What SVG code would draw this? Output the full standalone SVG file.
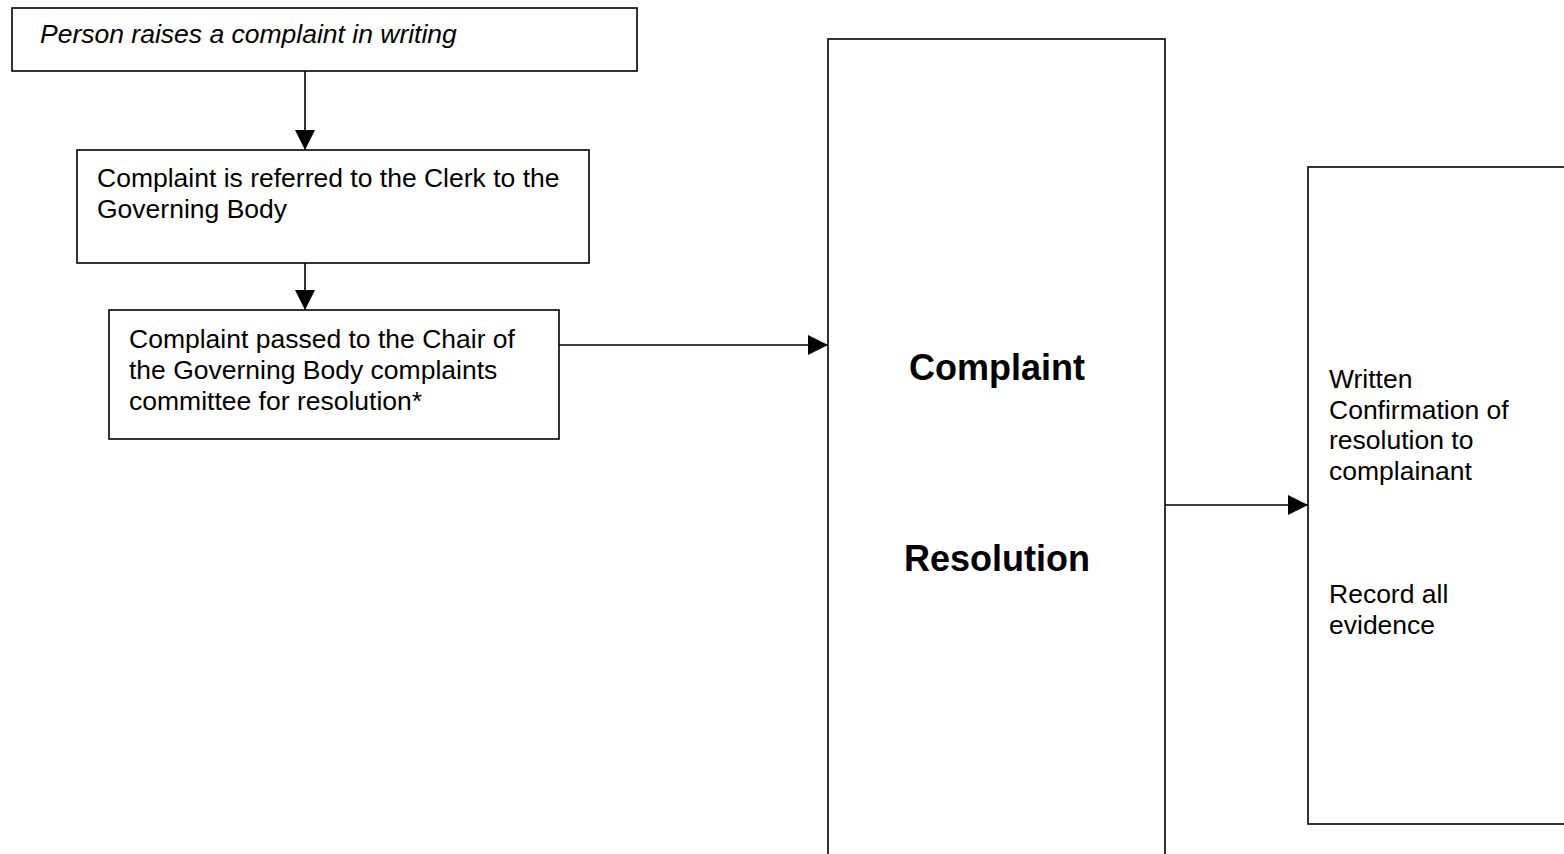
<svg xmlns="http://www.w3.org/2000/svg" width="1564" height="854" viewBox="0 0 1564 854">
<style>
.box{fill:#fff;stroke:#000;stroke-width:1.6}
.t{font-family:"Liberation Sans",Arial,sans-serif;font-size:26.5px;fill:#000}
.it{font-style:italic}
.b{font-family:"Liberation Sans",Arial,sans-serif;font-size:36px;font-weight:bold;fill:#000;text-anchor:middle}
.c{stroke:#000;stroke-width:1.6;fill:none}
</style>
<defs>
<marker id="ah" markerWidth="20" markerHeight="20" refX="20" refY="10" orient="auto" markerUnits="userSpaceOnUse">
<path d="M0,0 L20,10 L0,20 Z" fill="#000"/>
</marker>
</defs>
<rect width="1564" height="854" fill="#fff"/>
<g id="connectors">
<line class="c" x1="305" y1="71" x2="305" y2="150" marker-end="url(#ah)"/>
<line class="c" x1="305" y1="263" x2="305" y2="310" marker-end="url(#ah)"/>
<line class="c" x1="559" y1="345" x2="828" y2="345" marker-end="url(#ah)"/>
<line class="c" x1="1165" y1="505" x2="1308" y2="505" marker-end="url(#ah)"/>
</g>
<g id="n1">
<rect class="box" x="12" y="8" width="625" height="63"/>
<text class="t it" x="40" y="43">Person raises a complaint in writing</text>
</g>
<g id="n2">
<rect class="box" x="77" y="150" width="512" height="113"/>
<text class="t" x="97" y="187">Complaint is referred to the Clerk to the</text>
<text class="t" x="97" y="218">Governing Body</text>
</g>
<g id="n3">
<rect class="box" x="109" y="310" width="450" height="129"/>
<text class="t" x="129" y="348">Complaint passed to the Chair of</text>
<text class="t" x="129" y="379">the Governing Body complaints</text>
<text class="t" x="129" y="410">committee for resolution*</text>
</g>
<g id="n4">
<rect class="box" x="828" y="39" width="337" height="830"/>
<text class="b" x="997" y="380">Complaint</text>
<text class="b" x="997" y="571">Resolution</text>
</g>
<g id="n5">
<rect class="box" x="1308" y="167" width="270" height="657"/>
<text class="t" x="1329" y="388">Written</text>
<text class="t" x="1329" y="419">Confirmation of</text>
<text class="t" x="1329" y="449">resolution to</text>
<text class="t" x="1329" y="480">complainant</text>
<text class="t" x="1329" y="603">Record all</text>
<text class="t" x="1329" y="634">evidence</text>
</g>
</svg>
